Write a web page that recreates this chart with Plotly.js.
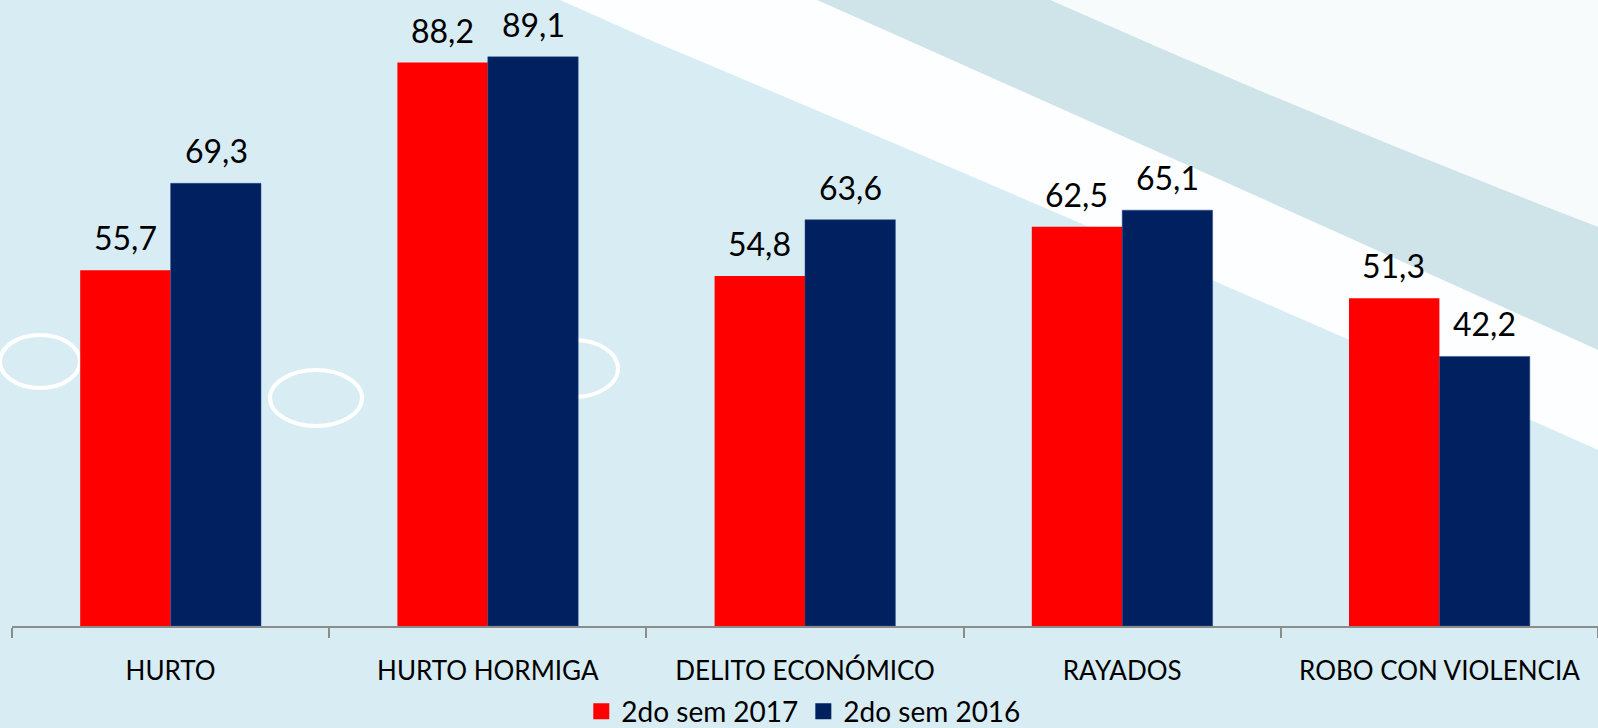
<!DOCTYPE html>
<html>
<head>
<meta charset="utf-8">
<script src="https://cdn.plot.ly/plotly-3.0.1.min.js"></script>
<style>html,body{margin:0;padding:0;background:#d8ecf3;}#chart{width:1598px;height:728px;}</style>
</head>
<body>
<div id="chart"></div>
<script>
const categories = ["HURTO", "HURTO HORMIGA", "DELITO ECONÓMICO", "RAYADOS", "ROBO CON VIOLENCIA"];
const series2017 = [55.7, 88.2, 54.8, 62.5, 51.3];
const series2016 = [69.3, 89.1, 63.6, 65.1, 42.2];
const seriesNames = ["2do sem 2017", "2do sem 2016"];
const seriesColors = ["#ff0000", "#002060"];

const FONT = "Lato, 'Open Sans', sans-serif";

const traces = [
  {type: "bar", name: seriesNames[0], x: categories, y: series2017, marker: {color: seriesColors[0]}, hoverinfo: "none", showlegend: false},
  {type: "bar", name: seriesNames[1], x: categories, y: series2016, marker: {color: seriesColors[1], line: {color: "#2a4a8a", width: 0.5}}, hoverinfo: "none", showlegend: false},
  {type: "scatter", mode: "markers", name: seriesNames[0], x: [categories[0]], y: [null], marker: {symbol: "square", size: 20, color: seriesColors[0]}, hoverinfo: "none"},
  {type: "scatter", mode: "markers", name: seriesNames[1], x: [categories[0]], y: [null], marker: {symbol: "square", size: 20, color: seriesColors[1]}, hoverinfo: "none"}
];

const barHalf = 45.5;
const annotations = [];
[series2017, series2016].forEach((vals, si) => {
  vals.forEach((v, i) => {
    annotations.push({
      x: categories[i], y: v, xref: "x", yref: "y",
      text: v.toFixed(1).replace(".", ","),
      showarrow: false, yanchor: "bottom",
      xshift: si === 0 ? -barHalf : barHalf, yshift: 11,
      font: {family: FONT, size: 32, color: "#000"}
    });
  });
});

// background decoration (pixel units, converted to paper coords below)
const shapes = [
  {type: "path", layer: "below",
   path: "M 1050 0 L 1598 0 L 1598 227 Q 1320 120 1050 0 Z",
   fillcolor: "#f7fbfc", line: {width: 0}},
  {type: "path", layer: "below",
   path: "M 817 0 L 1050 0 Q 1320 120 1598 227 L 1598 350 Q 1200 170 817 0 Z",
   fillcolor: "#cfe4e9", line: {width: 0}},
  {type: "path", layer: "below",
   path: "M 560 0 L 817 0 Q 1200 170 1598 350 L 1598 450 Q 1150 250 650 40 L 560 0 Z",
   fillcolor: "#fdfeff", line: {width: 0}},
  {type: "circle", layer: "below",
   x0: 0, x1: 80, y0: 335, y1: 388, line: {color: "#ffffff", width: 4}},
  {type: "circle", layer: "below",
   x0: 270, x1: 362, y0: 370, y1: 426, line: {color: "#ffffff", width: 4}},
  {type: "circle", layer: "below",
   x0: 530, x1: 618, y0: 340, y1: 397, line: {color: "#ffffff", width: 4}}
];
const W = 1598, H = 728, mL = 12, mR = 0, mT = 0, mB = 102;
const pw = W - mL - mR, ph = H - mT - mB;
function px2paperX(x) { return (x - mL) / pw; }
function px2paperY(y) { return (H - mB - y) / ph; }
shapes.forEach(s => {
  s.xref = "paper"; s.yref = "paper";
  if (s.type === "circle") {
    s.x0 = px2paperX(s.x0); s.x1 = px2paperX(s.x1);
    const a = px2paperY(s.y0), b = px2paperY(s.y1);
    s.y0 = Math.min(a, b); s.y1 = Math.max(a, b);
  } else {
    s.path = s.path.replace(/(-?\d+(?:\.\d+)?) (-?\d+(?:\.\d+)?)/g, (m, x, y) => px2paperX(+x).toFixed(4) + " " + px2paperY(+y).toFixed(4));
  }
});

const layout = {
  width: W, height: H,
  margin: {l: mL, r: mR, t: mT, b: mB, autoexpand: false},
  paper_bgcolor: "#d8ecf3",
  plot_bgcolor: "rgba(0,0,0,0)",
  barmode: "group",
  bargap: 0.43,
  bargroupgap: 0,
  showlegend: true,
  legend: {orientation: "h", x: 0.503, xanchor: "center", xref: "container",
           y: 0.057, yanchor: "top", yref: "container", entrywidthmode: "pixels",
           font: {family: FONT, size: 28, color: "#000"}, traceorder: "normal",
           bgcolor: "rgba(0,0,0,0)", itemsizing: "trace"},
  xaxis: {
    showline: true, linecolor: "#8c8c8c", linewidth: 2, automargin: false,
    ticks: "outside", tickson: "boundaries", ticklen: 10, tickcolor: "#8c8c8c", tickwidth: 2,
    tickfont: {family: FONT, size: 26, color: "#000"}, ticklabelstandoff: 21,
    showgrid: false, zeroline: false, fixedrange: true
  },
  yaxis: {range: [0, 98], visible: false, showgrid: false, zeroline: false, fixedrange: true, automargin: false},
  annotations: annotations,
  shapes: shapes
};

Plotly.newPlot("chart", traces, layout, {displayModeBar: false, staticPlot: true});
</script>
</body>
</html>
